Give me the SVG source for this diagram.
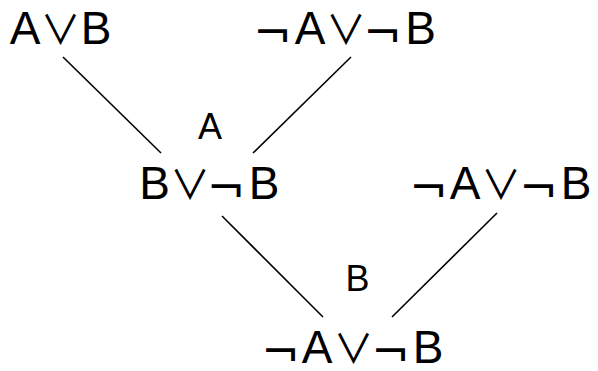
<svg xmlns="http://www.w3.org/2000/svg" width="598" height="371" viewBox="0 0 598 371">
<style>
.t{font-family:"Liberation Sans",Arial,sans-serif;font-size:46px;fill:#000;text-anchor:middle}
.t tspan{text-anchor:middle}
.lab{font-family:"Liberation Sans",Arial,sans-serif;font-size:36px;fill:#000;text-anchor:middle}
.c{stroke:#000;stroke-width:1.6;fill:none}
.or{font-family:"Noto Sans CJK JP",sans-serif;font-size:40px}
.neg{font-family:"DejaVu Sans",sans-serif;font-size:46px}
</style>
<rect width="598" height="371" fill="#fff"/>
<g id="connectors">
<line class="c" x1="63" y1="57" x2="161" y2="153"/>
<line class="c" x1="351" y1="57" x2="253" y2="153"/>
<line class="c" x1="222" y1="216" x2="323" y2="317"/>
<line class="c" x1="497" y1="213" x2="392" y2="317"/>
</g>
<g id="n1"><text class="t" y="44"><tspan x="25">A</tspan><tspan class="or" x="60.5">∨</tspan><tspan x="96">B</tspan></text></g>
<g id="n2"><text class="t" y="44"><tspan class="neg" x="272.5" y="49">¬</tspan><tspan x="310" y="44">A</tspan><tspan class="or" x="346">∨</tspan><tspan class="neg" x="382.5" y="49">¬</tspan><tspan x="420.5" y="44">B</tspan></text></g>
<g id="n3"><text class="t" y="199"><tspan x="154.5">B</tspan><tspan class="or" x="190">∨</tspan><tspan class="neg" x="226" y="204">¬</tspan><tspan x="264" y="199">B</tspan></text></g>
<g id="n4"><text class="t" y="199"><tspan class="neg" x="428.5" y="204">¬</tspan><tspan x="465" y="199">A</tspan><tspan class="or" x="501">∨</tspan><tspan class="neg" x="538.5" y="204">¬</tspan><tspan x="576" y="199">B</tspan></text></g>
<g id="n5"><text class="t" y="363"><tspan class="neg" x="280.5" y="368">¬</tspan><tspan x="317" y="363">A</tspan><tspan class="or" x="353.5">∨</tspan><tspan class="neg" x="390.5" y="368">¬</tspan><tspan x="428" y="363">B</tspan></text></g>
<g id="l1"><text class="lab" x="210" y="139">A</text></g>
<g id="l2"><text class="lab" x="357.5" y="291">B</text></g>
</svg>
